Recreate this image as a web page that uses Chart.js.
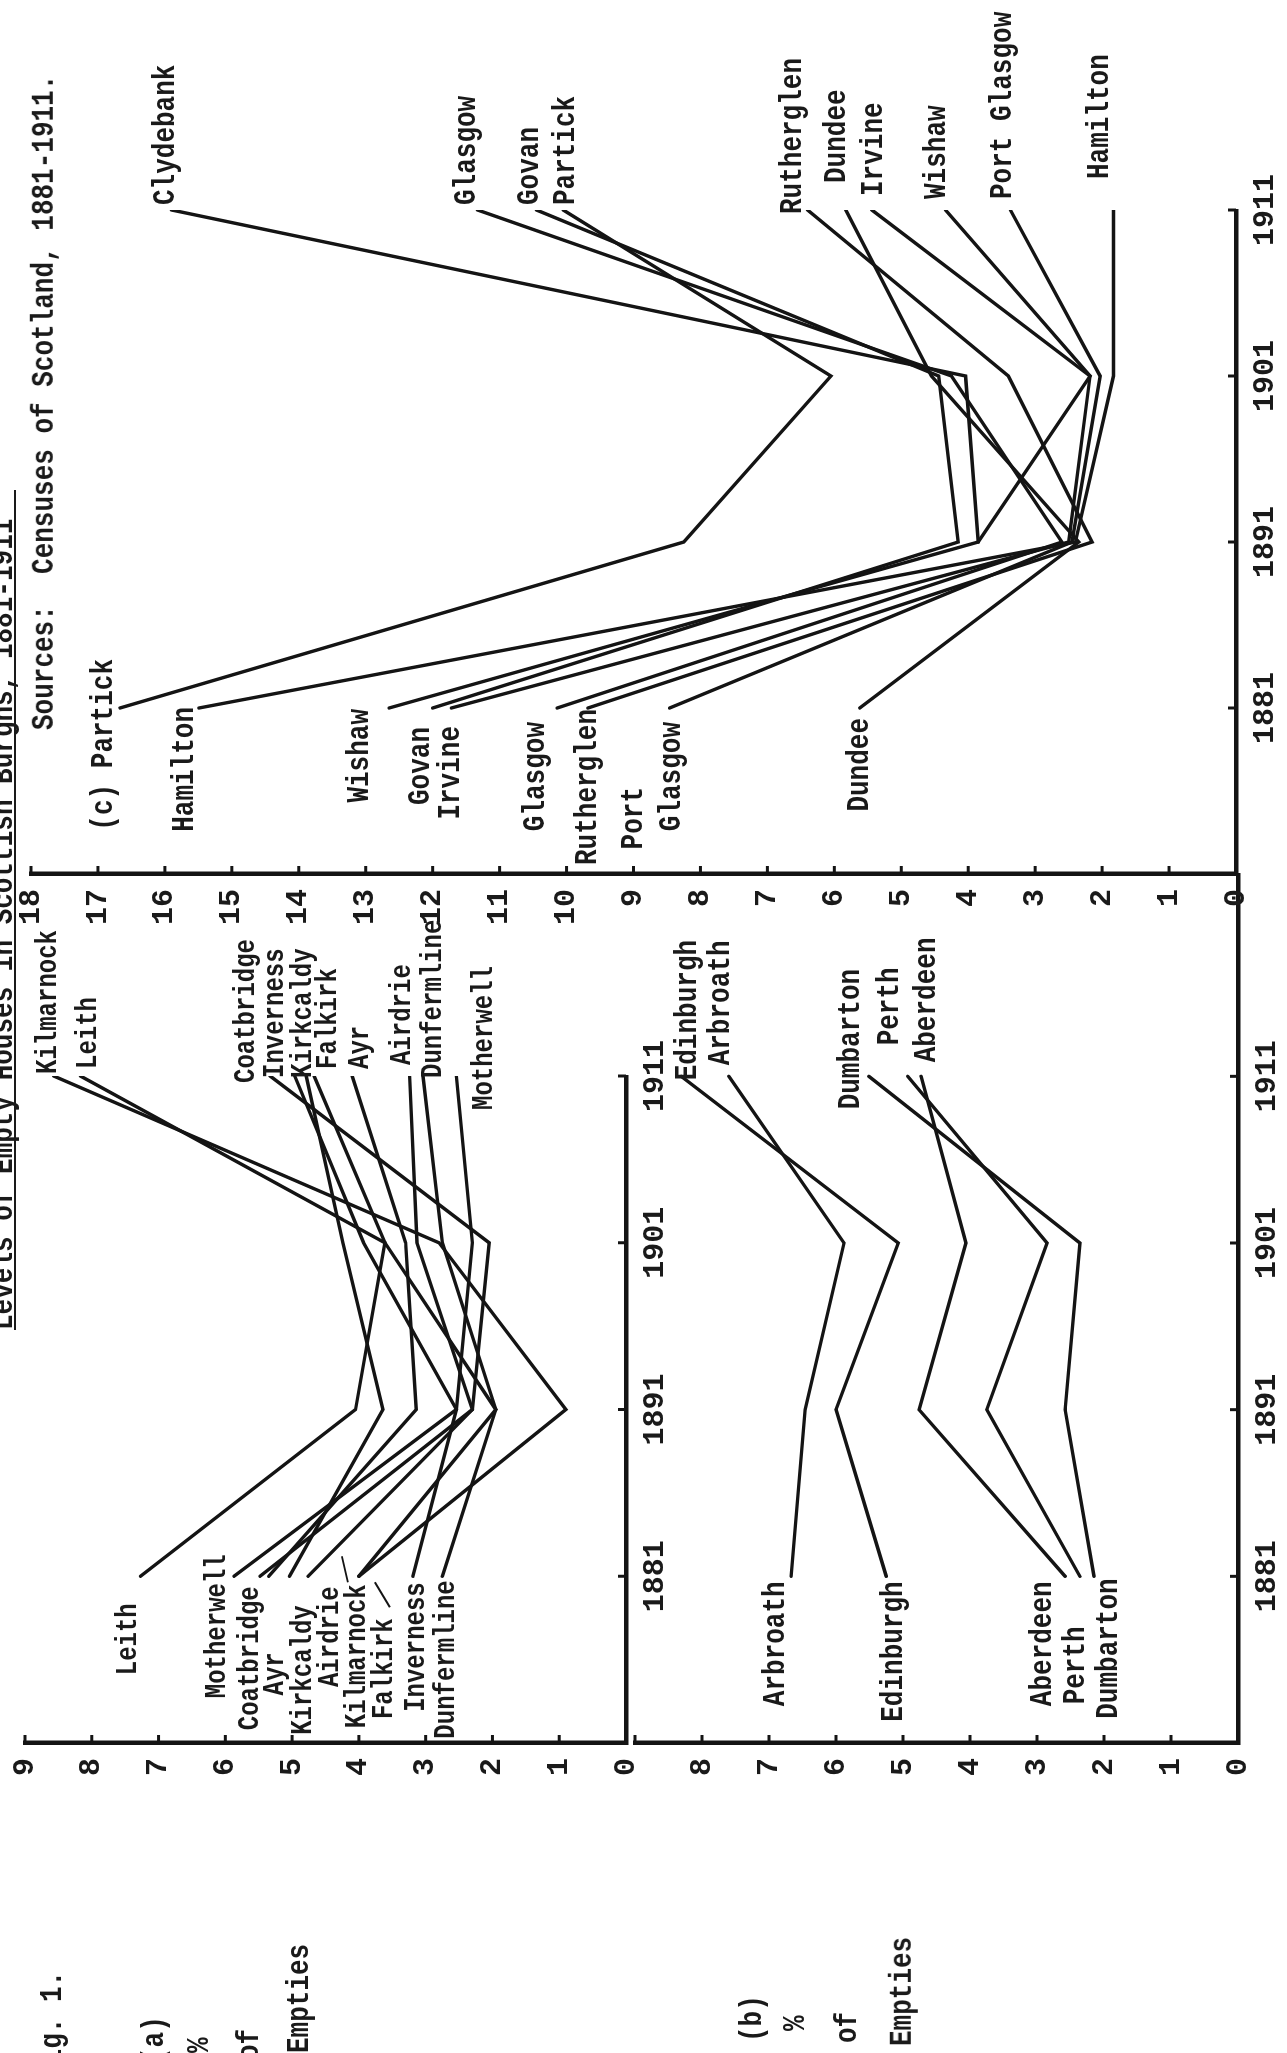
<!DOCTYPE html>
<html>
<head>
<meta charset="utf-8">
<script src="https://cdn.jsdelivr.net/npm/chart.js@4.4.1/dist/chart.umd.min.js"></script>
<style>
html,body{margin:0;padding:0;background:#fff;}
body{width:1287px;height:2053px;overflow:hidden;position:relative;}
#land{position:absolute;left:0;top:2053px;width:2053px;height:1287px;transform-origin:0 0;transform:rotate(-90deg);}
#land canvas{position:absolute;left:0;top:0;}
.t{position:absolute;font-family:'Liberation Mono','DejaVu Sans Mono',monospace;font-weight:bold;font-size:26px;color:#1a1a1a;white-space:pre;line-height:26px;transform-origin:0 19px;transform:scaleY(1.2);}
.ul{position:absolute;height:2px;background:#1a1a1a;}
</style>
</head>
<body>
<div id="land">
  <canvas id="cA" width="2053" height="1287"></canvas>
  <canvas id="cB" width="2053" height="1287"></canvas>
  <canvas id="cC" width="2053" height="1287"></canvas>
  <div class="t" style="left:723px;top:-8px">Levels of Empty Houses in Scottish Burghs, 1881-1911</div>
  <div class="ul" style="left:723px;top:14px;width:840px"></div>
  <div class="t" style="left:1323px;top:33px">Sources:  Censuses of Scotland, 1881-1911.</div>
  <div class="t" style="left:-27px;top:41px">Fig. 1.</div>
  <div class="t" style="left:-10px;top:143px">(a)</div>
  <div class="t" style="left:0px;top:188px">%</div>
  <div class="t" style="left:-7px;top:238px">of</div>
  <div class="t" style="left:0px;top:288px">Empties</div>
  <div class="t" style="left:11px;top:741px">(b)</div>
  <div class="t" style="left:22px;top:784px">%</div>
  <div class="t" style="left:10px;top:836px">of</div>
  <div class="t" style="left:7px;top:891px">Empties</div>
</div>
<script>
// ---------- DATA ----------
const YEARS = [1881, 1891, 1901, 1911];

// Panel (a): % of empty houses
const A_TOWNS = ['Leith','Motherwell','Coatbridge','Ayr','Kirkcaldy','Airdrie','Kilmarnock','Falkirk','Inverness','Dunfermline'];
const a_Leith       = [7.27, 4.05, 3.61, 8.17];
const a_Motherwell  = [5.87, 2.54, 2.30, 2.54];
const a_Coatbridge  = [5.48, 2.30, 2.05, 5.33];
const a_Ayr         = [5.35, 3.14, 3.30, 4.10];
const a_Kirkcaldy   = [5.04, 3.64, 4.24, 4.79];
const a_Airdrie     = [4.76, 2.30, 3.13, 3.24];
const a_Kilmarnock  = [4.00, 0.90, 2.80, 8.57];
const a_Falkirk     = [4.00, 1.95, 3.61, 4.67];
const a_Inverness   = [3.19, 2.54, 3.93, 4.96];
const a_Dunfermline = [2.75, 1.95, 2.75, 3.04];

// Panel (b)
const B_TOWNS = ['Edinburgh','Arbroath','Aberdeen','Perth','Dumbarton'];
const b_Edinburgh = [5.25, 6.00, 5.07, 8.31];
const b_Arbroath  = [6.67, 6.46, 5.88, 7.60];
const b_Aberdeen  = [2.58, 4.76, 4.06, 4.73];
const b_Perth     = [2.36, 3.75, 2.85, 4.93];
const b_Dumbarton = [2.15, 2.58, 2.36, 5.51];

// Panel (c)
const C_TOWNS = ['Partick','Hamilton','Wishaw','Govan','Irvine','Glasgow','Rutherglen','Port Glasgow','Dundee','Clydebank'];
const c_Partick     = [16.67, 8.25, 6.05, 10.05];
const c_Hamilton    = [15.49, 2.40, 1.83, 1.83];
const c_Wishaw      = [12.65, 3.85, 2.18, 4.34];
const c_Govan       = [12.00, 4.15, 4.44, 10.45];
const c_Irvine      = [11.72, 2.50, 2.18, 5.44];
const c_Glasgow     = [10.14, 2.60, 4.25, 11.33];
const c_Rutherglen  = [9.68, 2.15, 3.40, 6.40];
const c_PortGlasgow = [8.46, 2.45, 2.03, 3.37];
const c_Dundee      = [5.62, 2.35, 4.55, 5.83];
const c_Clydebank   = [null, 3.85, 4.04, 15.90];

// Value-axis ranges (tick labels are generated by the axes)
const A_YMAX = 9, B_YMAX = 9, C_YMAX = 18;

// ---------- LAYOUT (label placement, not data) ----------
// [series index, dx, dy, optional text]
const A_START = [[0,-27,-5],[1,22,-9],[2,-10,-2],[3,-76,14],[4,-29,22],[5,-10,30],[6,-8,6],[7,-42,33],[8,-6,11],[9,-4,12]];
const A_END   = [[0,7,16],[1,-34,36],[2,-7,-16],[3,7,16],[4,-2,5],[5,11,0],[6,2,2],[7,7,22],[8,-2,-12],[9,-2,18]];
const B_START = [[0,-5,16],[1,-5,-7],[2,-5,-14],[3,-50,4],[4,-2,23]];
const B_END   = [[0,-4,15],[1,11,0],[2,14,14],[3,31,-10],[4,-33,-10]];
const C_START = [[0,49,-8,'(c) Partick'],[1,1,-6],[2,-1,-21],[3,-19,-4],[4,-18,8],[5,-14,-13],[6,-1,8],[7,-79,-28,'Port'],[7,-14,10,'Glasgow'],[8,-10,8]];
const C_END   = [[0,5,11],[1,31,-5],[2,11,0],[3,5,2],[4,14,10],[5,5,-3],[6,-4,-7],[7,11,1],[8,27,-1],[9,5,2]];

const FONT = "'Liberation Mono','DejaVu Sans Mono',monospace";
const INK = '#141414';
const W = 2053, H = 1287;

const labelPlugin = {
  id: 'townLabels',
  afterDatasetsDraw(chart, args, opts) {
    const ctx = chart.ctx;
    ctx.save();
    ctx.fillStyle = '#1a1a1a';
    ctx.strokeStyle = INK;
    ctx.font = 'bold ' + opts.size + 'px ' + FONT;
    ctx.textBaseline = 'alphabetic';
    (opts.items || []).forEach(it => {
      const pt = chart.getDatasetMeta(it.ds).data[it.idx];
      if (!pt || pt.skip) return;
      ctx.save();
      ctx.translate(pt.x + it.dx, pt.y + it.dy);
      ctx.scale(1, 1.2);
      ctx.textAlign = it.align;
      ctx.fillText(it.text, 0, 0);
      ctx.restore();
    });
    (opts.leaders || []).forEach(l => {
      const pt = chart.getDatasetMeta(l.ds).data[l.idx];
      ctx.lineWidth = 2;
      ctx.beginPath();
      ctx.moveTo(pt.x + l.x1, pt.y + l.y1);
      ctx.lineTo(pt.x + l.x2, pt.y + l.y2);
      ctx.stroke();
    });
    ctx.restore();
  }
};

const innerTicks = {
  id: 'innerTicks',
  afterDraw(chart) {
    const {ctx, chartArea: a, scales: {x, y}} = chart;
    ctx.save();
    ctx.strokeStyle = INK;
    ctx.lineWidth = 3;
    y.ticks.forEach(t => {
      const py = y.getPixelForValue(t.value);
      ctx.beginPath(); ctx.moveTo(a.left, py); ctx.lineTo(a.left + 8, py); ctx.stroke();
    });
    x.ticks.forEach(t => {
      const px = x.getPixelForValue(t.value);
      ctx.beginPath(); ctx.moveTo(px, a.bottom); ctx.lineTo(px, a.bottom - 8); ctx.stroke();
    });
    ctx.restore();
  }
};

function buildItems(towns, startL, endL) {
  const items = [];
  startL.forEach(r => items.push({ds: r[0], idx: 0, dx: r[1], dy: r[2], text: r[3] || towns[r[0]], align: 'right'}));
  endL.forEach(r => items.push({ds: r[0], idx: 3, dx: r[1], dy: r[2], text: r[3] || towns[r[0]], align: 'left'}));
  return items;
}

function panel(id, towns, series, area, xmax, ymax, items, size, hide9, leaders) {
  const cv = document.getElementById(id);
  const YW = 90, XH = 60;
  const grid = {display: true, drawOnChartArea: false, drawTicks: false};
  const border = {display: true, color: INK, width: 4.5};
  const tickFont = {family: FONT, size: 30, weight: 'bold'};
  const chart = new Chart(cv, {
    type: 'line',
    data: {
      datasets: series.map((v, i) => ({
        label: towns[i],
        data: YEARS.map((yr, k) => ({x: yr, y: v[k]})),
        borderColor: INK, borderWidth: 3.4, pointRadius: 0, pointHoverRadius: 0,
        tension: 0, fill: false, spanGaps: false, borderCapStyle: 'round', borderJoinStyle: 'miter'
      }))
    },
    options: {
      responsive: false, animation: false, devicePixelRatio: 1, events: [],
      layout: {autoPadding: false, padding: {left: area.left - YW, right: W - area.right, top: area.top, bottom: H - area.bottom - XH}},
      plugins: {legend: {display: false}, tooltip: {enabled: false}, townLabels: {size: size, items: items, leaders: leaders || []}},
      scales: {
        x: {
          type: 'linear', min: 1871, max: xmax,
          afterFit(s) { s.height = XH; },
          afterBuildTicks(s) { s.ticks = YEARS.map(v => ({value: v})); },
          grid: grid, border: border,
          ticks: {font: tickFont, color: '#1a1a1a', padding: 11, maxRotation: 0, autoSkip: false, callback: v => String(v)}
        },
        y: {
          type: 'linear', min: 0, max: ymax,
          afterFit(s) { s.width = YW; },
          grid: grid, border: border,
          ticks: {stepSize: 1, autoSkip: false, font: tickFont, color: '#1a1a1a', padding: 15,
                  callback: v => (hide9 && v === 9) ? '' : String(v)}
        }
      }
    },
    plugins: [labelPlugin, innerTicks]
  });
  const ca = chart.chartArea;
  cv.style.left = (area.left - ca.left) + 'px';
  cv.style.top = (area.top - ca.top) + 'px';
  return chart;
}

const aSeries = [a_Leith, a_Motherwell, a_Coatbridge, a_Ayr, a_Kirkcaldy, a_Airdrie, a_Kilmarnock, a_Falkirk, a_Inverness, a_Dunfermline];
const bSeries = [b_Edinburgh, b_Arbroath, b_Aberdeen, b_Perth, b_Dumbarton];
const cSeries = [c_Partick, c_Hamilton, c_Wishaw, c_Govan, c_Irvine, c_Glasgow, c_Rutherglen, c_PortGlasgow, c_Dundee, c_Clydebank];

panel('cA', A_TOWNS, aSeries, {left: 310, right: 977, top: 25, bottom: 634}, 1911, A_YMAX,
      buildItems(A_TOWNS, A_START, A_END), 24, false,
      [{ds: 6, idx: 0, x1: -6, y1: -11, x2: 20, y2: -17}, {ds: 7, idx: 0, x1: -31, y1: 31, x2: -6, y2: 16}]);
panel('cB', B_TOWNS, bSeries, {left: 310, right: 1179, top: 635, bottom: 1238}, 1923.14, B_YMAX,
      buildItems(B_TOWNS, B_START, B_END), 26, true);
panel('cC', C_TOWNS, cSeries, {left: 1179, right: 1843, top: 31, bottom: 1238}, 1911, C_YMAX,
      buildItems(C_TOWNS, C_START, C_END), 26, false);
</script>
</body>
</html>
